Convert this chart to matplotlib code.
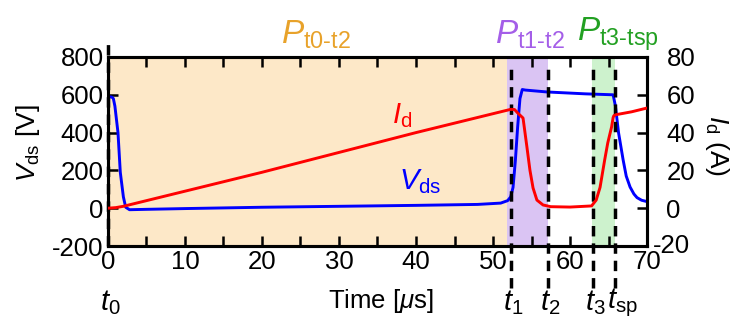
import numpy as np
import matplotlib.pyplot as plt
from matplotlib.transforms import ScaledTranslation

plt.rcParams['font.family'] = ['Liberation Sans', 'DejaVu Sans']
plt.rcParams['mathtext.fontset'] = 'custom'
plt.rcParams['mathtext.rm'] = 'Liberation Sans'
plt.rcParams['mathtext.it'] = 'Liberation Sans:italic'
plt.rcParams['axes.unicode_minus'] = False

# drain-source voltage [V] vs time [us]
t_vds = [0, 0.5, 0.7, 0.9, 1.3, 1.6, 2.0, 2.3, 2.8, 5, 10, 20, 30, 40, 48, 51.0,
         51.9, 52.3, 52.6, 52.9, 53.2, 53.5, 53.8, 54.2, 57, 62, 65.6, 65.9, 66.3,
         66.9, 67.3, 67.8, 68.3, 68.7, 69.3, 70]
vds = [590, 588, 580, 540, 400, 190, 60, 5, -8, -6, -2, 5, 10, 15, 20, 27,
       40, 60, 110, 250, 430, 580, 628, 625, 615, 605, 600, 540, 400,
       255, 170, 112, 75, 56, 42, 35]

# drain current [A] vs time [us]
t_id = [0, 1.0, 2.0, 2.5, 10, 20, 30, 40, 50, 51.5, 52.3, 52.8, 53.2, 53.9, 54.4,
        54.8, 55.2, 55.7, 56.5, 57.5, 60, 62.8, 63.4, 63.9, 64.5, 64.9, 65.4, 65.6,
        65.7, 66, 68, 70]
i_d = [0, 0.3, 1, 1.5, 9, 19, 29.5, 40, 50, 51.5, 52.3, 52.2, 50.4, 47.7, 32.5,
       20, 10.7, 4.3, 1.7, 0.8, 0.6, 1.2, 4.3, 11, 25.5, 34.5, 43, 48,
       49, 49.5, 51, 53]

t_marks = [0, 52.4, 57.1, 63.0, 65.9]
t_names = ['$t_0$', '$t_1$', '$t_2$', '$t_3$', '$t_{\\mathrm{sp}}$']

id_ticks = [-20, 0, 20, 40, 60, 80]

fig = plt.figure(figsize=(7.33, 3.2), dpi=100)
ax = fig.add_axes([0.1473, 0.23125, 0.7354, 0.59065])
ax2 = ax.twinx()

# shaded loss intervals
ax.axvspan(0, 51.8, color='#fde8c8', lw=0, zorder=0)
ax.axvspan(51.8, 57.1, color='#dac4f3', lw=0, zorder=0)
ax.axvspan(62.9, 65.9, color='#cdf2cd', lw=0, zorder=0)

ax.plot(t_vds, vds, color='#0000ff', lw=2.1, zorder=3)
ax2.plot(t_id, i_d, color='#ff0000', lw=2.1, zorder=3)

ax.set_xlim(0, 70)
ax.set_ylim(-200, 800)
ax2.set_ylim(-20, 80)
ax.set_xticks(np.arange(0, 71, 10))
ax.set_xticks(np.arange(0, 71, 5), minor=True)
ax.set_yticks(np.arange(-200, 801, 200))
ax2.set_yticks(id_ticks)
# the negative label is drawn by hand so its sign hangs left
ax2.set_yticklabels([''] + [str(v) for v in id_ticks[1:]])

for a in (ax, ax2):
    a.tick_params(direction='in', length=7, width=1.8, labelsize=18.5, pad=3)
    a.tick_params(which='minor', direction='in', length=7, width=1.8)
    for s in a.spines.values():
        s.set_linewidth(2.2)
ax.tick_params(axis='x', which='both', top=True)
ax2.tick_params(axis='y', pad=14)
ax2.patch.set_visible(False)

ax2.text(1.0, id_ticks[0], str(id_ticks[0]), fontsize=18.5, ha='right', va='center',
         transform=ax2.get_yaxis_transform() + ScaledTranslation(43 / 100, 0, fig.dpi_scale_trans))

fig.text(0.0382, 0.553, '$V_{\\mathrm{ds}}$ [V]', fontsize=19, rotation=90,
         ha='center', va='center')
fig.text(0.978, 0.544, '$I_{\\mathrm{d}}$ (A)', fontsize=19, rotation=270,
         ha='center', va='center')

# dashed time markers with labels below the axis
tr = ax.get_xaxis_transform()
shift = ScaledTranslation(-8 / 100, 0, fig.dpi_scale_trans)
for x, name in zip(t_marks, t_names):
    if x == 0:
        ax.plot([x, x], [0, 1.09], transform=tr, color='k', ls=(0, (3, 2)),
                lw=2.5, clip_on=False, zorder=5)
    else:
        ax.plot([x, x], [-0.22, 0.97], transform=tr, color='k', ls=(0, (3, 2)),
                lw=2.5, clip_on=False, zorder=5)
    ax.text(x, -0.30, name, transform=tr + shift, fontsize=21, ha='left', va='center')

ax.text(35.5, -0.29, 'Time [$\\mu$s]', transform=tr, fontsize=18.5,
        ha='center', va='center')

ax.text(27, 1.12, '$P_{\\mathrm{t0\\text{-}t2}}$', transform=tr, fontsize=24,
        color='#e8a22a', ha='center', va='center')
ax.text(54.8, 1.12, '$P_{\\mathrm{t1\\text{-}t2}}$', transform=tr, fontsize=24,
        color='#a45ee8', ha='center', va='center')
ax.text(66.2, 1.12, '$P_{\\mathrm{t3\\text{-}tsp}}$', transform=tr, fontsize=24,
        color='#22a022', ha='center', va='center')

ax.text(40.5, 140, '$V_{\\mathrm{ds}}$', fontsize=21, color='#0000ff',
        ha='center', va='center')
ax.text(38.2, 490, '$I_{\\mathrm{d}}$', fontsize=21, color='#ff0000',
        ha='center', va='center')

fig.savefig('out.png', dpi=100)
